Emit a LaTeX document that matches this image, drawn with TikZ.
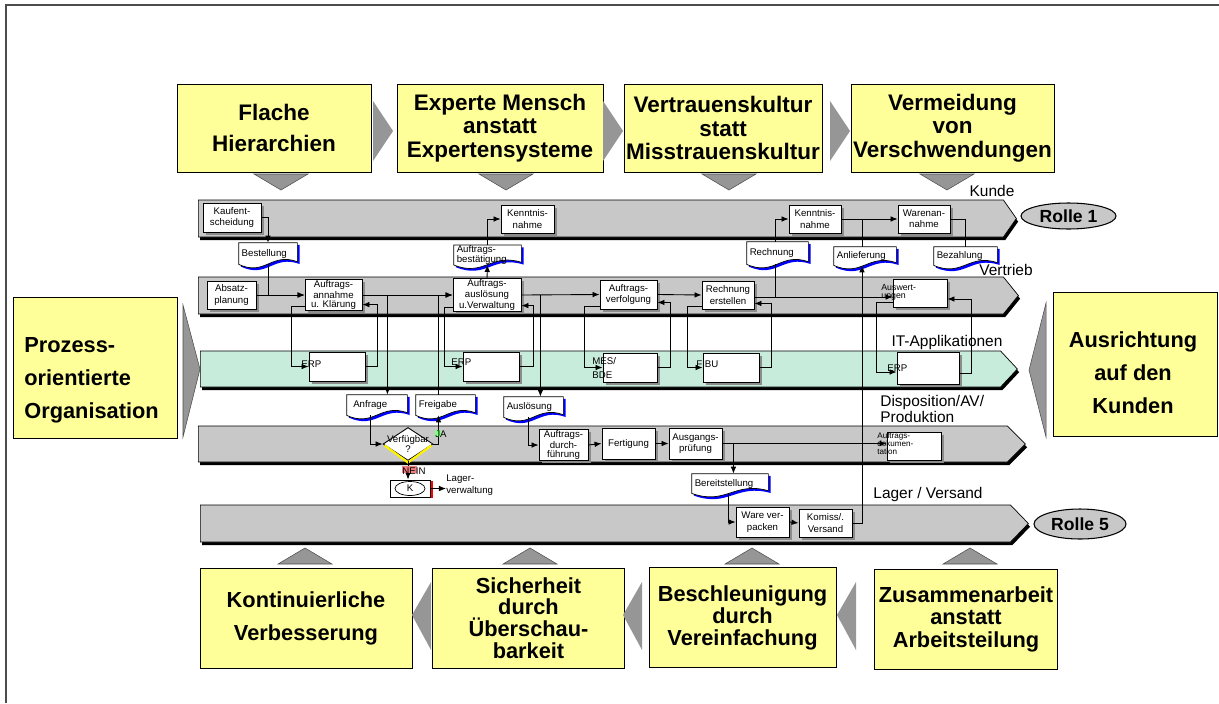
\documentclass[tikz,border=0pt]{standalone}
\usepackage{fontspec}
\setmainfont{Liberation Sans}
\usetikzlibrary{shapes.geometric,shapes.symbols,arrows.meta,positioning,calc,shadows}

\definecolor{boxyellow}{RGB}{255,255,153}
\definecolor{lanegray}{RGB}{200,200,200}
\definecolor{lanegreen}{RGB}{200,236,220}
\definecolor{trigray}{RGB}{150,150,150}
\definecolor{docblue}{RGB}{0,0,255}
\definecolor{jagreen}{RGB}{128,255,128}
\definecolor{neinred}{RGB}{240,128,128}

\pgfdeclarelayer{background}
\pgfsetlayers{background,main}

\tikzset{
  sz/.style args={#1/#2}{minimum width=#1*0.02cm, minimum height=#2*0.02cm},
  flow/.style={-{Latex[length=4pt,width=3.2pt]}, line width=0.5pt},
  conn/.style={line width=0.5pt},
  lane/.style={signal, signal to=east, signal from=nowhere, draw, line width=0.4pt, inner sep=0pt, anchor=west,
    general shadow={fill=black, shadow xshift=1pt, shadow yshift=-1.8pt}},
  proc/.style={draw, fill=white, line width=0.5pt, inner sep=0.5pt, align=center,
    font=\fontsize{5.5}{6.5}\selectfont,
    general shadow={fill=black!45, shadow xshift=1.5pt, shadow yshift=-1.5pt}},
  proc3/.style={font=\fontsize{5.5}{5}\selectfont},
  doc/.style={inner xsep=1.5pt, inner ysep=0pt, align=left, font=\fontsize{5.5}{5.8}\selectfont},
  ybox/.style={draw, fill=boxyellow, line width=0.5pt, inner sep=0pt},
  ytext/.style={align=center, font=\fontsize{12.4}{#1}\selectfont\bfseries},
  ytext/.default=13,
  ttext/.style={align=center, font=\fontsize{12.8}{#1}\selectfont\bfseries},
  ttext/.default=13.3,
  lanelabel/.style={font=\fontsize{8.8}{9.5}\selectfont, inner sep=0pt},
  applabel/.style={font=\fontsize{5.5}{6.6}\selectfont, inner sep=0pt, anchor=west, align=left},
  rolle/.style={ellipse, draw, fill=lanegray, line width=0.6pt, font=\fontsize{10}{12}\selectfont\bfseries, inner sep=0pt},
  tri/.style={fill=trigray, draw=black!70, line width=0.3pt},
}

% document symbol: #1 node, #2/#3 offset
\newcommand\docoutline[3]{let \p1=(#1.north west), \p2=(#1.south east), \n1={\x2-\x1} in
  (\x1+#2,\y1+#3) -- (\x2+#2,\y1+#3) -- (\x2+#2,\y2+1.5pt+#3)
  .. controls (\x1+0.55*\n1+#2,\y2+7pt+#3) and (\x1+0.45*\n1+#2,\y2-7pt+#3) .. (\x1+#2,\y2+#3) -- cycle}
\newcommand\docshape[1]{%
  \fill[docblue] \docoutline{#1}{1.3pt}{-1.3pt};
  \filldraw[fill=white, draw=black, line width=0.4pt] \docoutline{#1}{0pt}{0pt};}

\begin{document}
\begin{tikzpicture}[x=0.02cm, y=-0.02cm, font=\fontsize{5.5}{6.5}\selectfont]
  \useasboundingbox (0,0) rectangle (1219,703);
  \draw[line width=0.6pt, black!70] (6,703) -- (6,5) -- (1219,5);

  % principles
  \node[ybox, ttext=17.5, sz=194/88] (flach) at (274,128) {Flache\\Hierarchien};
  \node[ybox, ttext, sz=206/88] (experte) at (500,128) {Experte Mensch\\anstatt\\Expertensysteme};
  \node[ybox, ttext, sz=198/88] (vertrauen) at (723,128) {Vertrauenskultur\\statt\\Misstrauenskultur};
  \node[ybox, ttext, sz=203/88] (vermeid) at (952.5,128) {Vermeidung\\von\\Verschwendungen};
  \node[ybox, ytext=18.7, sz=212/100] (kontin) at (306,618) {Kontinuierliche\\Verbesserung};
  \node[ybox, ytext=12.3, sz=192/100] (sicher) at (528.5,618) {Sicherheit\\durch\\Überschau-\\barkeit};
  \node[ybox, ytext=12.5, sz=187/100] (beschl) at (742.5,617.5) {Beschleunigung\\durch\\Vereinfachung};
  \node[ybox, ytext=12.8, sz=183/100] (zusamm) at (966,619) {Zusammenarbeit\\anstatt\\Arbeitsteilung};
  \node[ybox, sz=164/141] (prozess) at (95,367.5) {};
  \node[ytext=18.7, align=left, anchor=west, inner sep=0pt] (prozesstext) at (24,380) {Prozess-\\orientierte\\Organisation};
  \node[ybox, sz=164/144] (ausricht) at (1135,364) {};
  \node[ytext=18.7, inner sep=0pt] (ausrichttext) at (1133,373) {Ausrichtung\\auf den\\Kunden};

  \foreach \x in {373,603,830} \fill[trigray] (\x,101) -- (\x+20,131) -- (\x,161) -- cycle;
  \foreach \x in {412,623,837} \fill[trigray] (\x+19,582) -- (\x,615) -- (\x+19,650) -- cycle;
  \foreach \x in {281,506,729,947} \draw[tri] (\x-27,174) -- (\x+27,174) -- (\x,190) -- cycle;
  \foreach \x in {305,530,752,970} \draw[tri] (\x-27,564) -- (\x+27,564) -- (\x,548) -- cycle;
  \draw[tri] (183,305) -- (200,369) -- (183,437) -- cycle;
  \draw[tri] (1046,303) -- (1029,370) -- (1046,437) -- cycle;

  % lanes
  \node[lane, fill=lanegray, sz=818/37, signal pointer angle=110] (kundelane) at (198,218.5) {};
  \node[lane, fill=lanegray, sz=820/37, signal pointer angle=102] (vertrieblane) at (198,295.5) {};
  \node[lane, fill=lanegreen, sz=817/36, signal pointer angle=94] (itlane) at (200,369) {};
  \node[lane, fill=lanegray, sz=827/36, signal pointer angle=90] (displane) at (198,444) {};
  \node[lane, fill=lanegray, sz=828/37, signal pointer angle=92] (lagerlane) at (200,523.5) {};
  \node[lanelabel] (kundelbl) at (992,191) {Kunde};
  \node[lanelabel] (vertrieblbl) at (1006,270) {Vertrieb};
  \node[lanelabel] (itlbl) at (947,342) {IT-Applikationen};
  \node[lanelabel, anchor=west, align=left] (displbl) at (880,409) {Disposition/AV/\\Produktion};
  \node[lanelabel] (lagerlbl) at (928,494) {Lager / Versand};
  \node[rolle, sz=95/26] (rolle1) at (1068.5,216) {Rolle 1};
  \node[rolle, sz=92/30] (rolle5) at (1080,524) {Rolle 5};

  % functions
  \node[proc, sz=58/29] (kauf) at (232,217.5) {Kaufent-\\scheidung};
  \node[proc, sz=53/28] (kenn1) at (527.5,219) {Kenntnis-\\nahme};
  \node[proc, sz=52/28] (kenn2) at (815,219) {Kenntnis-\\nahme};
  \node[proc, sz=52/28] (waren) at (924,219) {Warenan-\\nahme};
  \node[proc, sz=49/28] (absatz) at (231.5,295) {Absatz-\\planung};
  \node[proc, proc3, sz=57/28] (annahme) at (333.5,295) {Auftrags-\\annahme\\u. Klärung};
  \node[proc, proc3, sz=68/28] (ausl) at (487,295) {Auftrags-\\auslösung\\u.Verwaltung};
  \node[proc, sz=57/29] (verf) at (628.5,294.5) {Auftrags-\\verfolgung};
  \node[proc, sz=52/28] (rechn) at (728,295) {Rechnung\\erstellen};
  \node[proc, sz=54/28] (ausw) at (920,293) {};
  \node[proc, sz=56/29] (erp1) at (337,366.5) {};
  \node[proc, sz=56/29] (erp2) at (491,366.5) {};
  \node[proc, sz=54/29] (mes) at (630,367.5) {};
  \node[proc, sz=56/29] (fibu) at (731,367.5) {};
  \node[proc, sz=62/32] (erp4) at (928,368) {};
  \node[proc, proc3, sz=49/28] (durch) at (563.5,445) {Auftrags-\\durch-\\führung};
  \node[proc, sz=53/31] (fert) at (628.5,443.5) {Fertigung};
  \node[proc, sz=53/31] (ausg) at (695.5,443.5) {Ausgangs-\\prüfung};
  \node[proc, sz=54/28] (doku) at (914,446) {};
  \node[proc, sz=53/30] (ware) at (762.5,522) {Ware ver-\\packen};
  \node[proc, sz=53/28] (komiss) at (825.5,523) {Komiss/.\\Versand};

  % documents
  \node[doc, text width=29.9pt, sz=58/21] (best) at (268,253.5) {Bestellung};
  \node[doc, text width=35pt, sz=67/18] (bestaet) at (487.5,255) {Auftrags-\\bestätigung};
  \node[doc, text width=31.6pt, sz=61/22] (rechdoc) at (777.5,253) {Rechnung};
  \node[doc, text width=32.1pt, sz=62/18] (anlief) at (865,256) {Anlieferung};
  \node[doc, text width=32.7pt, sz=63/18] (bezahl) at (965.5,256) {Bezahlung};
  \node[doc, text width=31pt, sz=60/20] (anfrage) at (377,405) {\hspace{2pt}Anfrage};
  \node[doc, text width=30.4pt, sz=59/20] (freigabe) at (445.5,405) {Freigabe};
  \node[doc, text width=30.4pt, sz=59/20] (ausloes) at (533.5,407) {Auslösung};
  \node[doc, text width=40.1pt, sz=76/19] (bereit) at (730,483.5) {Bereitstellung};
  \begin{pgfonlayer}{background}
    \foreach \d in {best,bestaet,rechdoc,anlief,bezahl,anfrage,freigabe,ausloes,bereit} {\docshape{\d}}
  \end{pgfonlayer}

  % decision and stock
  \node[diamond, draw, fill=white, sz=50/33, inner sep=0pt, line width=0.5pt] (dia) at (408,444) {};
  \draw[yellow, line width=1.3pt] ($(dia.west)+(2,1.5)$) -- ($(dia.south)+(0,1.5)$) -- ($(dia.east)+(-2,1.5)$);
  \node[font=\fontsize{5.5}{5.5}\selectfont, align=center, inner sep=0pt] (dialbl) at (408,444) {Verfügbar\\?};
  \node[draw, fill=white, sz=40/17, inner sep=0pt, line width=0.5pt,
    general shadow={fill=red, shadow xshift=1.5pt, shadow yshift=-0.6pt}] (kbox) at (410,488.5) {};
  \node[ellipse, draw, sz=30/14, inner sep=0pt] (kell) at (410,488.5) {K};
  \node[applabel] (lager) at (446,485) {Lager-\\verwaltung};

  % Kunde / Vertrieb / IT
  \draw[flow] (kauf.east) -| (best.north);
  \draw[flow] (best.south) |- (annahme.west);
  \draw[flow] (absatz.east) -- (annahme.west);
  \draw[flow] (annahme.east) -- (ausl.west);
  \coordinate (anfragejoin) at ($(annahme.east)+(25,0)$);
  \draw[flow] (anfragejoin) -- (anfragejoin |- anfrage.north);
  \draw[flow] ($(freigabe.north)+(-7,0)$) |- (ausl.west);
  \draw[flow] ($(annahme.south west)+(0,-4)$) -| ($(erp1.west)+(-17,0)$) -- (erp1.west);
  \draw[flow] (erp1.east) -| ($(annahme.south east)+(15,-6)$) -- ($(annahme.south east)+(0,-6)$);
  \draw[flow] (ausl.north) -- (bestaet.south);
  \draw[flow] (bestaet.north) |- (kenn1.west);
  \draw[flow] (ausl.east) -- (verf.west);
  \coordinate (ausljoin) at ($(ausl.east)+(19,0)$);
  \draw[flow] (ausljoin) -- (ausljoin |- ausloes.north);
  \draw[flow] ($(ausl.south west)+(0,-4)$) -| ($(erp2.west)+(-18,0)$) -- (erp2.west);
  \draw[flow] (erp2.east) -| ($(ausl.south east)+(12,-6)$) -- ($(ausl.south east)+(0,-6)$);
  \draw[flow] ($(verf.south west)+(0,-3)$) -| ($(mes.west)+(-18,0)$) -- (mes.west);
  \draw[flow] (mes.east) -| ($(verf.south east)+(13,-7)$) -- ($(verf.south east)+(0,-7)$);
  \draw[flow] (verf.east) -- (rechn.west);
  \draw[flow] ($(rechn.south west)+(0,-3)$) -| ($(fibu.west)+(-15,0)$) -- (fibu.west);
  \draw[flow] (fibu.east) -| ($(rechn.south east)+(17,-6)$) -- ($(rechn.south east)+(0,-6)$);
  \draw[flow] ($(rechn.east)+(0,2)$) -- ($(ausw.west)+(0,4)$);
  \coordinate (rechnjoin) at ($(rechn.east)+(21,2)$);
  \draw[conn] (rechnjoin) -- (rechnjoin |- rechdoc.south);
  \draw[flow] (rechnjoin |- rechdoc.north) |- (kenn2.west);
  \draw[flow] (kenn2.east) -- (waren.west);
  \coordinate (anliefjoin) at ($(anlief.north)+(-3,0)$);
  \draw[conn] (anliefjoin) -- (anliefjoin |- kenn2.east);
  \draw[conn] (waren.east) -| (bezahl.north);
  \draw[flow] ($(ausw.south west)+(0,-5)$) -| ($(erp4.west)+(-20,4)$) -- ($(erp4.west)+(0,4)$);
  \draw[flow] ($(erp4.east)+(0,5)$) -| ($(ausw.east)+(24,6)$) -- ($(ausw.east)+(0,6)$);

  % Disposition / Lager
  \coordinate (anfrageout) at ($(anfrage.south)+(-7,0)$);
  \draw[flow] (anfrageout) |- (dia.west);
  \draw[flow] (dia.east) -| ($(freigabe.south)+(-7,0)$);
  \draw[flow] (dia.south) -- (dia.south |- kbox.north);
  \draw[flow] (kbox.east) -- (kbox.east -| lager.west);
  \draw[flow] ($(ausloes.south)+(-5,0)$) |- (durch.west);
  \draw[flow] (durch.east) -- (fert.west);
  \draw[flow] (fert.east) -- (ausg.west);
  \draw[flow] (ausg.east) -- (ausg.east -| doku.west);
  \coordinate (ausgjoin) at ($(ausg.east)+(11,0)$);
  \draw[flow] (ausgjoin) -- (ausgjoin |- bereit.north);
  \draw[flow] ($(bereit.south)+(-2,0)$) |- (ware.west);
  \draw[flow] (ware.east) -- (komiss.west);
  \draw[flow] (komiss.east) -| (anliefjoin |- anlief.south);

  % labels
  \node[applabel] (erp1lbl) at (301,364) {ERP};
  \node[applabel] (erp2lbl) at (451,362) {ERP};
  \node[applabel, font=\fontsize{5.5}{7.5}\selectfont] (meslbl) at (592,368) {MES/\\BDE};
  \node[applabel] (fibulbl) at (696,364) {FIBU};
  \node[applabel] (erp4lbl) at (887,368) {ERP};
  \node[applabel, font=\fontsize{5}{4.6}\selectfont] (auswlbl) at (881,292) {Auswert-\\ungen};
  \node[applabel, font=\fontsize{4.6}{4.6}\selectfont] (dokulbl) at (877,444) {Auftrags-\\dokumen-\\tation};
  \fill[jagreen] (435,430) rectangle (441,437);
  \node[inner sep=0pt] (ja) at (441,434) {JA};
  \fill[neinred] (402,466) rectangle (417,473);
  \node[inner sep=0pt] (nein) at (414,471) {NEIN};
\end{tikzpicture}
\end{document}
